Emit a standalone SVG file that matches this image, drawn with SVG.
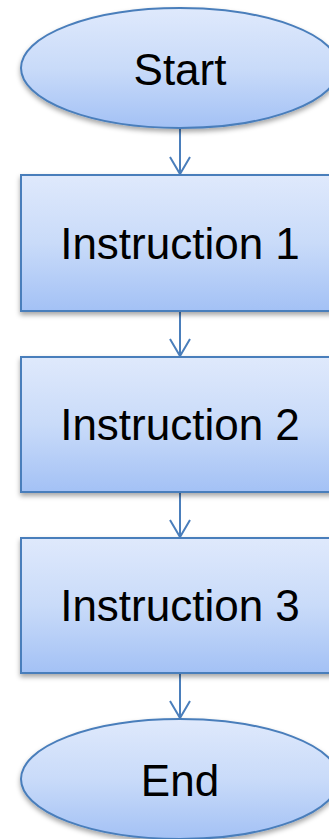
<svg xmlns="http://www.w3.org/2000/svg" width="329" height="839" viewBox="0 0 329 839">
<defs>
<linearGradient id="g" x1="0" y1="0" x2="0" y2="1">
<stop offset="0" stop-color="#dfe9fc"/>
<stop offset="0.5" stop-color="#c9dbf9"/>
<stop offset="1" stop-color="#a3c1f5"/>
</linearGradient>
<filter id="sh" x="-10%" y="-10%" width="130%" height="130%">
<feDropShadow dx="0" dy="3" stdDeviation="2.5" flood-color="#000" flood-opacity="0.35"/>
</filter>
</defs>
<style>
.shape{fill:url(#g);stroke:#4a7ebb;stroke-width:2;filter:url(#sh)}
.lbl{font-family:"Liberation Sans",Arial,sans-serif;font-size:44px;fill:#000;text-anchor:middle}
.conn{stroke:#4a7ebb;stroke-width:2;fill:none}
</style>
<g id="connectors">
<line class="conn" x1="180" y1="128" x2="180" y2="174"/>
<polyline class="conn" points="170,157 180,174 190,157"/>
<line class="conn" x1="180" y1="311" x2="180" y2="356"/>
<polyline class="conn" points="170,339 180,356 190,339"/>
<line class="conn" x1="180" y1="492" x2="180" y2="537"/>
<polyline class="conn" points="170,520 180,537 190,520"/>
<line class="conn" x1="180" y1="673" x2="180" y2="718"/>
<polyline class="conn" points="170,701 180,718 190,701"/>
</g>
<g id="start">
<ellipse class="shape" cx="180" cy="68" rx="159" ry="60"/>
<text class="lbl" x="180" y="85">Start</text>
</g>
<g id="instruction1">
<rect class="shape" x="21" y="175" width="318" height="136"/>
<text class="lbl" x="180" y="259">Instruction 1</text>
</g>
<g id="instruction2">
<rect class="shape" x="21" y="357" width="318" height="135"/>
<text class="lbl" x="180" y="440">Instruction 2</text>
</g>
<g id="instruction3">
<rect class="shape" x="21" y="538" width="318" height="135"/>
<text class="lbl" x="180" y="621">Instruction 3</text>
</g>
<g id="end">
<ellipse class="shape" cx="180" cy="779" rx="159" ry="60"/>
<text class="lbl" x="180" y="796">End</text>
</g>
</svg>
